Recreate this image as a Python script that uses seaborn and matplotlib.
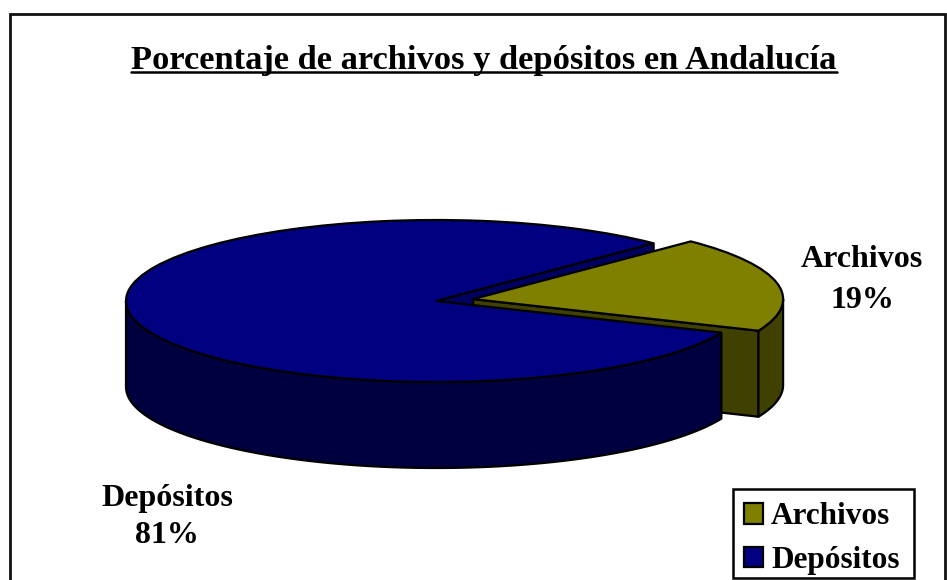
# 3D style pie of archives and deposits, built on ax.pie
import numpy as np
import seaborn as sns
import matplotlib.pyplot as plt
from matplotlib.lines import Line2D
from matplotlib.patches import Rectangle

# Data
categories = ['Archivos', 'Depósitos']
values = [19, 81]
title = 'Porcentaje de archivos y depósitos en Andalucía'

# Colours
top_colors = ['#808000', '#000080']
wall_colors = ['#404000', '#000040']
inner_wall = '#000060'

# Geometry in pixels of the 947x580 picture
W, H = 947, 580
cx, cy = 436, 301
rx, ry = 310, 81
depth = 86 / ry
explode = 0.122
start = -23
lw = 1.6

sns.set_theme(style='white')
plt.rcParams['font.family'] = ['Liberation Serif', 'DejaVu Serif']
plt.rcParams['font.weight'] = 'bold'

fig = plt.figure(figsize=(W / 100, H / 100), dpi=100)
ax = fig.add_axes([0, 0, 1, 1])

wedges, _ = ax.pie(values, colors=top_colors, startangle=start, explode=[explode, 0],
                   wedgeprops={'edgecolor': 'black', 'linewidth': lw, 'zorder': 5})
wedges[1].set_zorder(9)

# pie() makes the axes round, here the ellipse is wanted
ax.set_aspect('auto')
ax.set_xlim(-cx / rx, (W - cx) / rx)
ax.set_ylim((cy - H) / ry, cy / ry)

# Angles of the two cuts come from the values
split = start + 360 * values[0] / sum(values)
end = start + 360
mid = np.radians((start + split) / 2)
ox, oy = explode * np.cos(mid), explode * np.sin(mid)


def arc(a0, a1, x0=0, y0=0, n=120):
    t = np.radians(np.linspace(a0, a1, n))
    return x0 + np.cos(t), y0 + np.sin(t)


def wall(xs, ys, color, z):
    px = np.concatenate([xs, xs[::-1]])
    py = np.concatenate([ys, ys[::-1] - depth])
    ax.fill(px, py, facecolor=color, edgecolor='black', linewidth=lw, zorder=z, joinstyle='round')


# Cut face of the big slice, mostly hidden behind the small one
ex, ey = arc(split, split, n=1)
wall(np.array([0, ex[0]]), np.array([0, ey[0]]), inner_wall, 2)

# Small slice: cut face and outer wall
ex, ey = arc(start, start, ox, oy, n=1)
wall(np.array([ox, ex[0]]), np.array([oy, ey[0]]), wall_colors[0], 3)
xs, ys = arc(start, 0, ox, oy)
wall(xs, ys, wall_colors[0], 4)

# Front wall of the big slice
xs, ys = arc(180, end)
wall(xs, ys, wall_colors[1], 8)


def to_x(px):
    return (px - cx) / rx


def to_y(py):
    return (cy - py) / ry


# Labels
ax.text(to_x(862), to_y(280), f'{categories[0]}\n{values[0]}%', ha='center', va='center',
        fontsize=23, linespacing=1.52, color='black', zorder=12)
ax.text(to_x(167), to_y(517), f'{categories[1]}\n{values[1]}%', ha='center', va='center',
        fontsize=23, linespacing=1.4, color='black', zorder=12)

# Title with its underline
ttl = ax.text(to_x(484), to_y(60), title, ha='center', va='center', fontsize=24.8,
              color='black', zorder=12)
bb = ttl.get_window_extent(fig.canvas.get_renderer())
fig.add_artist(Line2D([bb.x0 / W, bb.x1 / W], [1 - 72 / H, 1 - 72 / H], color='black', linewidth=1.8))

# Outer frame, the bottom edge falls outside the picture
fig.add_artist(Rectangle((9.5 / W, -0.02), 935 / W, 1.02 - 13.5 / H, transform=fig.transFigure,
                         fill=False, edgecolor='#111111', linewidth=2))

# Legend, its box is drawn apart so the entries can sit low inside it
fig.add_artist(Rectangle((733 / W, 1 - 578 / H), 181 / W, 89 / H, transform=fig.transFigure,
                         fill=False, edgecolor='black', linewidth=1.8))
leg = ax.legend(wedges, categories, loc='lower left', bbox_to_anchor=(733 / W, 1 - 586 / H),
                bbox_transform=fig.transFigure, frameon=False, fontsize=22.5, labelcolor='black',
                handlelength=0.62, handleheight=0.62, handletextpad=0.25, labelspacing=0.47,
                borderpad=0.35, borderaxespad=0)
leg.set_zorder(15)

fig.savefig('out.png', dpi=100, facecolor='white')
